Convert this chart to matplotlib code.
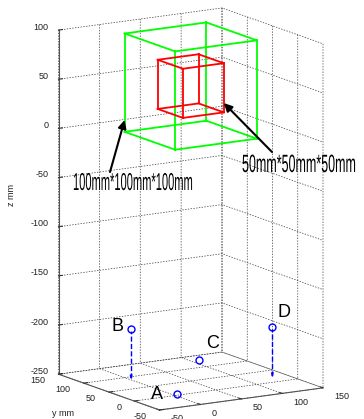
import itertools
import numpy as np
import matplotlib
matplotlib.use('Agg')
import matplotlib.pyplot as plt
from mpl_toolkits.mplot3d import proj3d
from matplotlib.patheffects import AbstractPathEffect
from matplotlib.transforms import Affine2D

W, H = 364, 419
plt.rcParams.update({
    'font.family': ['Liberation Sans', 'DejaVu Sans'],
    'font.size': 6.5,
    'grid.color': '#3a3a3a',
    'grid.linestyle': (0, (2.0, 2.0)),
    'grid.linewidth': 0.5,
    'axes3d.grid': True,
})

# ---------------- data ----------------
x_lim = (-50, 150)
y_lim = (-50, 150)
z_lim = (-250, 100)
x_ticks = [-50, 0, 50, 100, 150]
y_ticks = [-50, 0, 50, 100, 150]
z_ticks = [-250, -200, -150, -100, -50, 0, 50, 100]

cube_center = (50, 50, 50)
cube_sizes = [100, 50]
cube_colors = ['#00ff00', '#ff0000']
cube_texts = ['100mm*100mm*100mm', '50mm*50mm*50mm']

pt_labels = ['A', 'B', 'C', 'D']
pt_x = [5, 4.5, 110, 135]
pt_y = [5, 94.5, 130, 26]
pt_z = [-250, -200, -250, -200]
stem_len = [0, 50, 0, 50]


class VStretch(AbstractPathEffect):
    """Draw text glyphs stretched vertically (condensed look of the original)."""
    def __init__(self, sy):
        super().__init__()
        self.sy = sy

    def draw_path(self, renderer, gc, tpath, affine, rgbFace=None):
        renderer.draw_path(gc, tpath, Affine2D().scale(1.0, self.sy) + affine, rgbFace)


fig = plt.figure(figsize=(W / 100, H / 100), dpi=100)
ax = fig.add_axes([0, 0, 1, 1], projection='3d')
ax.set_proj_type('ortho')
ax.view_init(elev=12.65, azim=-121.7)
ax.set_xlim(x_lim)
ax.set_ylim(y_lim)
ax.set_zlim(z_lim)
ax.set_xticks(x_ticks)
ax.set_yticks(y_ticks)
ax.set_zticks(z_ticks)
ax.set_xticklabels([])
ax.set_yticklabels([])
ax.set_zticklabels([])
aspect = (200, 200, 367)
ax.set_box_aspect(aspect, zoom=1.0)

for axis in (ax.xaxis, ax.yaxis, ax.zaxis):
    axis.pane.set_facecolor('none')
    axis.pane.set_edgecolor('none')
    axis.line.set_color('#555555')
    axis.line.set_linewidth(0.8)
    axis._axinfo['tick']['inward_factor'] = 0.0
    axis._axinfo['tick']['outward_factor'] = 0.3
ax.tick_params(colors='#333333', pad=0)

# cubes (wireframe edges)
for size, color in zip(cube_sizes, cube_colors):
    h = size / 2
    corners = [(cube_center[0] + sx * h, cube_center[1] + sy * h, cube_center[2] + sz * h)
               for sx, sy, sz in itertools.product((-1, 1), repeat=3)]
    for p, q in itertools.combinations(corners, 2):
        if sum(a != b for a, b in zip(p, q)) == 1:
            ax.plot(*zip(p, q), color=color, lw=1.3, clip_on=False)

# points and stems
ax.plot(pt_x, pt_y, pt_z, ls='none', marker='o', ms=5, mfc='none', mec='#0000ff', mew=1,
        clip_on=False)
for x, y, z, L in zip(pt_x, pt_y, pt_z, stem_len):
    if L:
        q = ax.quiver(x, y, z - 2, 0, 0, -L + 2, color='#0000ff', lw=1, linestyle='--',
                      arrow_length_ratio=0.08)
        q.set_clip_on(False)


def disp(x, y, z):
    xs, ys, _ = proj3d.proj_transform(x, y, z, ax.get_proj())
    return np.asarray(ax.transData.transform((xs, ys)))


# calibrate placement of the box in the figure (targets in pixels from top-left)
corner_xyz = [(x_lim[0], y_lim[1], z_lim[0]), (x_lim[1], y_lim[0], z_lim[0]),
              (x_lim[0], y_lim[0], z_lim[0]), (x_lim[1], y_lim[1], z_lim[1])]
corner_px = np.array([(58.5, H - 374), (323, H - 388), (159.5, H - 410), (222, H - 8)])
zoom = 1.0
pos = np.array([0.0, 0.0, 1.0, 1.0])
for _ in range(3):
    fig.canvas.draw()
    cur = np.array([disp(*c) for c in corner_xyz])
    zoom *= (corner_px[1, 0] - corner_px[0, 0]) / (cur[1, 0] - cur[0, 0])
    ax.set_box_aspect(aspect, zoom=zoom)
    fig.canvas.draw()
    cur = np.array([disp(*c) for c in corner_xyz])
    d = corner_px.mean(axis=0) - cur.mean(axis=0)
    pos[0] += d[0] / W
    pos[1] += d[1] / H
    ax.set_position(list(pos))
fig.canvas.draw()

# tick labels
tick_kw = dict(xycoords='figure pixels', textcoords='offset pixels', fontsize=6.5,
               color='#222222')
for v in x_ticks:
    ax.annotate(str(v), xy=disp(v, y_lim[0], z_lim[0]), xytext=(11, -9),
                ha='left', va='center', **tick_kw)
for v in y_ticks:
    ax.annotate(str(v), xy=disp(x_lim[0], v, z_lim[0]), xytext=(-13, -6.5),
                ha='right', va='center', **tick_kw)
for v in z_ticks:
    ax.annotate(str(v), xy=disp(x_lim[0], y_lim[1], v), xytext=(-10, 3),
                ha='right', va='center', **tick_kw)

# axis labels
fig.text(63 / W, 1 - 413 / H, 'y mm', ha='center', va='center', fontsize=6.5, color='#222222')
fig.text(12 / W, 1 - 195 / H, 'z mm', ha='center', va='center', fontsize=6.5,
         color='#222222', rotation=90)

# point labels
offs = [(-20, 0), (-14, 2), (13, 17), (12, 14)]
for x, y, z, lab, (dx, dy) in zip(pt_x, pt_y, pt_z, pt_labels, offs):
    ax.annotate(lab, xy=disp(x, y, z), xycoords='figure pixels', xytext=(dx, dy),
                textcoords='offset pixels', ha='center', va='center', fontsize=13)

# cube annotations
tips = [disp(0, 100, 12), disp(75, 25, 34.5)]
tails = [(110, H - 172), (272, H - 152)]
text_pos = [(73, H - 190), (242, H - 172)]
text_size = [8.0, 9.0]
text_stretch = [2.2, 2.0]
for tip, tail, s, tp, fs, st in zip(tips, tails, cube_texts, text_pos, text_size, text_stretch):
    ax.annotate('', xy=tip, xycoords='figure pixels', xytext=tail, textcoords='figure pixels',
                arrowprops=dict(arrowstyle='-|>', color='k', lw=1.5, mutation_scale=12,
                                shrinkA=0, shrinkB=0))
    fig.text(tp[0] / W, tp[1] / H, s, ha='left', va='baseline', fontsize=fs,
             path_effects=[VStretch(st)])

fig.savefig('out.png', dpi=100)
